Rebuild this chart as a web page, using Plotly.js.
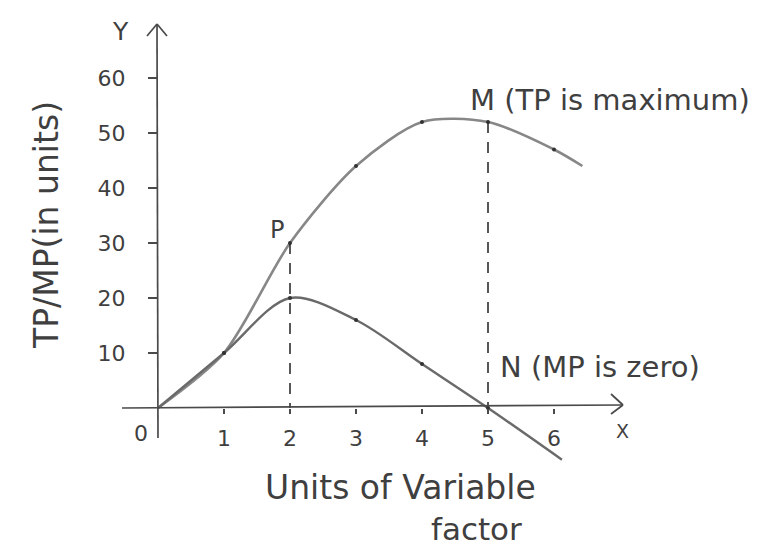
<!DOCTYPE html>
<html>
<head>
<meta charset="utf-8">
<script src="https://cdn.plot.ly/plotly-3.0.1.min.js"></script>
<style>
  html, body { margin: 0; padding: 0; background: #ffffff; }
  #chart { width: 776px; height: 552px; }
</style>
</head>
<body>
<div id="chart"></div>
<script>
// Units of the variable factor and the product schedules
const tpUnits = [0, 1, 2, 3, 4, 5, 6, 6.43];
const tpValues = [0, 10, 30, 44, 52, 52, 47, 44];
const mpUnits = [0, 1, 2, 3, 4, 5, 6.12];
const mpValues = [0, 10, 20, 16, 8, 0, -9.4];

// Axis ticks
const xTicks = [1, 2, 3, 4, 5, 6];
const xTickText = ['1', '2', '3', '4', '5', '6'];
const yTicks = [10, 20, 30, 40, 50, 60];
const yTickText = ['10', '20', '30', '40', '50', '60'];

// Points singled out on the curves
const pointP = 2;   // end of increasing returns (index into tp arrays)
const pointM = 5;   // TP maximum / MP zero

const ink = '#3f3f3f';
const pencil = '#878787';
const font = 'DejaVu Sans, Liberation Sans, sans-serif';

const traces = [
  {
    x: tpUnits, y: tpValues, mode: 'lines', type: 'scatter',
    line: { color: pencil, width: 2.6, shape: 'spline', smoothing: 0.8 },
    hoverinfo: 'skip'
  },
  {
    x: mpUnits, y: mpValues, mode: 'lines', type: 'scatter',
    line: { color: '#6a6a6a', width: 2.4, shape: 'spline', smoothing: 0.9 },
    hoverinfo: 'skip'
  },
  {
    // plotted points on TP
    x: tpUnits.slice(1, 7), y: tpValues.slice(1, 7), mode: 'markers', type: 'scatter',
    marker: { color: '#333', size: 4 }, hoverinfo: 'skip'
  },
  {
    // plotted points on MP
    x: mpUnits.slice(1, 6), y: mpValues.slice(1, 6), mode: 'markers', type: 'scatter',
    marker: { color: '#333', size: 4 }, hoverinfo: 'skip'
  },
  {
    // dashed drop line from P
    x: [tpUnits[pointP], tpUnits[pointP]], y: [tpValues[pointP], 0], mode: 'lines', type: 'scatter',
    line: { color: '#2e2e2e', width: 1.6, dash: '11px,9px' }, hoverinfo: 'skip'
  },
  {
    // dashed drop line from M to N
    x: [tpUnits[pointM], mpUnits[pointM]], y: [tpValues[pointM], mpValues[pointM]], mode: 'lines', type: 'scatter',
    line: { color: '#2e2e2e', width: 1.6, dash: '11px,9px' }, hoverinfo: 'skip'
  }
];

// pixel-to-data helpers for the hand drawn axis decorations
const PX0 = 158, PY0 = 408, SX = 66, SY = 5.5;
const dx = px => (px - PX0) / SX;
const dy = py => (PY0 - py) / SY;

const axisLine = { color: '#4a4a4a', width: 1.7 };
const shapes = [
  // y axis with open arrow head
  { type: 'line', x0: dx(158), y0: dy(438), x1: dx(157), y1: dy(24), line: axisLine },
  { type: 'line', x0: dx(147), y0: dy(36), x1: dx(157), y1: dy(24), line: axisLine },
  { type: 'line', x0: dx(167), y0: dy(36), x1: dx(157), y1: dy(24), line: axisLine },
  // x axis with open arrow head
  { type: 'line', x0: dx(122), y0: dy(408), x1: dx(623), y1: dy(405), line: axisLine },
  { type: 'line', x0: dx(611), y0: dy(394), x1: dx(623), y1: dy(405), line: axisLine },
  { type: 'line', x0: dx(611), y0: dy(414), x1: dx(623), y1: dy(405), line: axisLine }
];

const txt = (text, px, py, size, extra) => Object.assign({
  text: text, x: dx(px), y: dy(py), xref: 'x', yref: 'y',
  showarrow: false, font: { family: font, size: size, color: ink }
}, extra || {});

const annotations = [
  txt('Y', 120, 31, 25),
  txt('X', 622, 431, 19),
  txt('0', 141, 433, 22),
  txt('P', 277, 230, 24),
  txt('M (TP is maximum)', 468, 100, 29, { xanchor: 'left' }),
  txt('N (MP is zero)', 498, 367, 29, { xanchor: 'left' }),
  txt('Units of Variable', 400, 487, 33),
  txt('factor', 476, 529, 31),
  txt('TP/MP(in units)', 46, 225, 33, { textangle: -90 })
];

const layout = {
  width: 776, height: 552,
  margin: { l: 0, r: 0, t: 0, b: 0 },
  paper_bgcolor: '#ffffff', plot_bgcolor: '#ffffff',
  showlegend: false,
  xaxis: {
    range: [dx(0), dx(776)], anchor: 'free', position: (552 - PY0) / 552,
    showgrid: false, zeroline: false, showline: false,
    tickmode: 'array', tickvals: xTicks, ticktext: xTickText,
    ticks: 'outside', ticklen: 5, tickwidth: 1.6, tickcolor: '#4a4a4a',
    ticklabelstandoff: 6,
    tickfont: { family: font, size: 22, color: ink }
  },
  yaxis: {
    range: [dy(552), dy(0)], anchor: 'free', position: PX0 / 776,
    showgrid: false, zeroline: false, showline: false,
    tickmode: 'array', tickvals: yTicks, ticktext: yTickText,
    ticks: 'outside', ticklen: 10, tickwidth: 1.6, tickcolor: '#4a4a4a',
    ticklabelstandoff: 18,
    tickfont: { family: font, size: 22, color: ink }
  },
  shapes: shapes,
  annotations: annotations
};

Plotly.newPlot('chart', traces, layout, { staticPlot: true, displayModeBar: false });
</script>
</body>
</html>
